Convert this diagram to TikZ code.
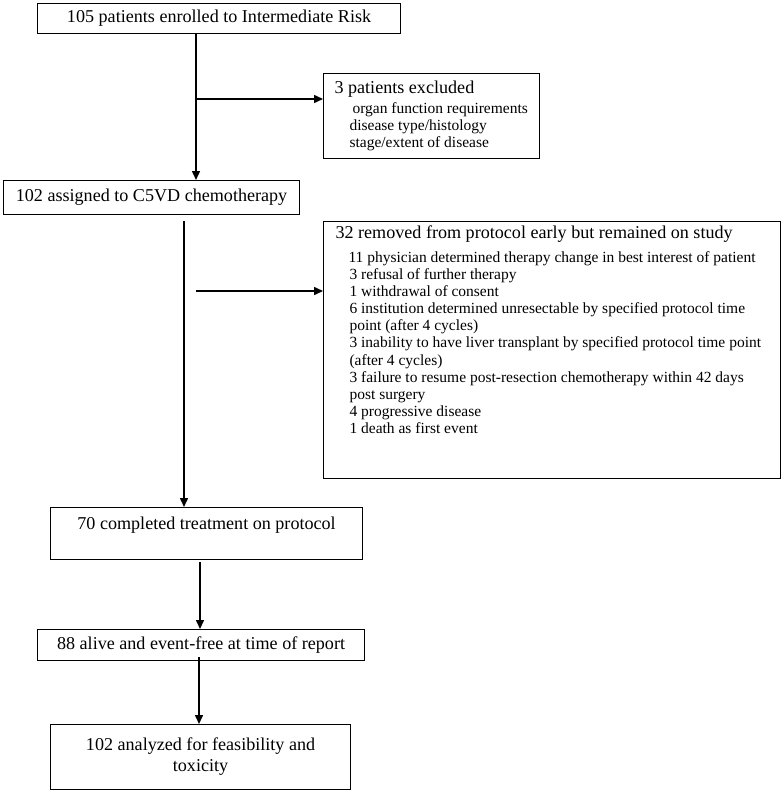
\documentclass[tikz,border=0pt]{standalone}
\usepackage{fontspec}
\setmainfont{Liberation Serif}
\usepackage{tikz}
\usetikzlibrary{arrows.meta,positioning}
\newcommand{\headsize}{\fontsize{18.1}{21}\selectfont}
\newcommand{\itemsize}{\fontsize{15.5}{17.1}\selectfont}

\begin{document}
\begin{tikzpicture}[
    x=1pt,
    y=-1pt,
    >={Triangle[length=9pt,width=8pt]},
    every node/.style={font=\headsize},
    flowbox/.style={
        rectangle,
        draw,
        line width=1.1pt,
        inner sep=0pt,
        anchor=north west,
        align=center
    },
    flow/.style={
        ->,
        line width=1.5pt
    }
]
    \useasboundingbox (0,0) rectangle (784,793);

    % === MAIN COLUMN ===
    \node[flowbox, minimum width=363pt, minimum height=30pt] (enrolled) at (37,3)
        {105 patients enrolled to Intermediate Risk};
    \node[flowbox, minimum width=296pt, minimum height=34pt] (assigned) at (3,180)
        {102 assigned to C5VD chemotherapy};
    \node[flowbox] (completed) at (50,507)
        {\parbox[c][52pt][t]{312pt}{\centering\vspace*{9pt}70 completed treatment on protocol}};
    \node[flowbox, minimum width=327pt, minimum height=31pt] (alive) at (37,629)
        {88 alive and event-free at time of report};
    \node[flowbox, minimum width=300pt, minimum height=65pt] (analyzed) at (50,724)
        {102 analyzed for feasibility and\\toxicity};

    % === SIDE BOXES ===
    \node[flowbox, align=left] (excluded) at (323,73)
        {\parbox[c][85pt][t]{216pt}{\vspace*{7pt}%
            \hspace*{11pt}3 patients excluded\\[3pt]
            \itemsize
            \hspace*{29pt}organ function requirements\\
            \hspace*{26pt}disease type/histology\\
            \hspace*{26pt}stage/extent of disease\par}};

    \node[flowbox, align=left] (removed) at (323,221)
        {\parbox[c][257pt][t]{457pt}{\vspace*{4pt}%
            \hspace*{12pt}32 removed from protocol early but remained on study\\[7pt]
            \itemsize
            \hspace*{25pt}11 physician determined therapy change in best interest of patient\\
            \hspace*{26pt}3 refusal of further therapy\\
            \hspace*{26pt}1 withdrawal of consent\\
            \hspace*{26pt}6 institution determined unresectable by specified protocol time\\
            \hspace*{26pt}point (after 4 cycles)\\
            \hspace*{26pt}3 inability to have liver transplant by specified protocol time point\\
            \hspace*{26pt}(after 4 cycles)\\
            \hspace*{26pt}3 failure to resume post-resection chemotherapy within 42 days\\
            \hspace*{26pt}post surgery\\
            \hspace*{26pt}4 progressive disease\\
            \hspace*{26pt}1 death as first event\par}};

    % Trunk and branch points
    \coordinate (trunkA) at (196,0);
    \coordinate (trunkB) at (184,221);
    \coordinate (branchB) at (196,291);
    \coordinate (trunkC) at (200,562);
    \coordinate (trunkD) at (199,657);

    % === CONNECTORS ===
    \draw[flow] (enrolled.south -| trunkA) -- (assigned.north -| trunkA);
    \draw[flow] ([yshift=-26pt]excluded.north west -| trunkA) -- ([yshift=-26pt]excluded.north west);

    \draw[flow] (trunkB) -- (completed.north -| trunkB);
    \draw[flow] (branchB) -- (removed.west |- branchB);

    \draw[flow] (trunkC) -- (alive.north -| trunkC);
    \draw[flow] (trunkD) -- (analyzed.north -| trunkD);
\end{tikzpicture}
\end{document}
